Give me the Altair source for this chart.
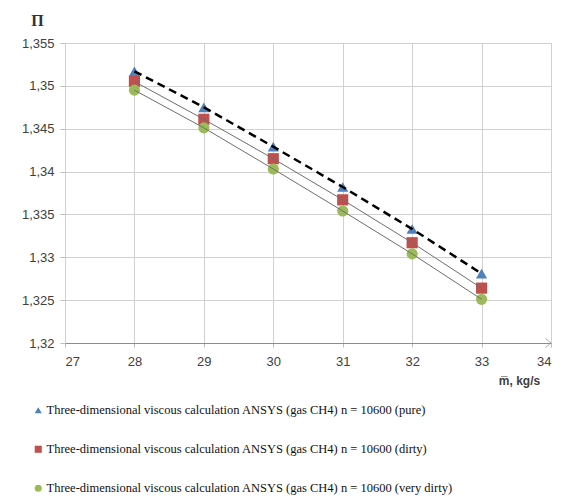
import altair as alt
import pandas as pd

flow = [28, 29, 30, 31, 32, 33]
pure = [1.3517, 1.3475, 1.3429, 1.3382, 1.3333, 1.3281]
dirty = [1.3505, 1.3461, 1.3415, 1.3367, 1.3317, 1.3264]
very_dirty = [1.3495, 1.3451, 1.3403, 1.3354, 1.3304, 1.3251]

names = [
    "Three-dimensional viscous calculation ANSYS (gas CH4) n = 10600 (pure)",
    "Three-dimensional viscous calculation ANSYS (gas CH4) n = 10600 (dirty)",
    "Three-dimensional viscous calculation ANSYS (gas CH4) n = 10600 (very dirty)",
]
colors = ["#4F81BD", "#C0504D", "#9BBB59"]
shapes = ["triangle-up", "square", "circle"]

rows = []
for name, vals in zip(names, [pure, dirty, very_dirty]):
    for x, y in zip(flow, vals):
        rows.append({"flow": x, "pi": y, "series": name})
df = pd.DataFrame(rows)

xs = alt.Scale(domain=[27, 34], nice=False)
ys = alt.Scale(domain=[1.32, 1.355], nice=False, zero=False)

xax = alt.Axis(
    values=[27, 28, 29, 30, 31, 32, 33, 34], format="d", title="m\u0305, kg/s",
    titleX=454, titleY=37, titleAlign="center", titleBaseline="middle",
    titleFont="Liberation Sans", titleFontSize=12, titleFontWeight="bold", titleColor="#404040",
    labelFont="Liberation Sans", labelFontSize=13, labelColor="#404040", labelPadding=8,
    domainColor="#8c8c8c", tickColor="#bfbfbf", tickSize=4, gridColor="#d0d0d0",
)
yax = alt.Axis(
    values=[1.32, 1.325, 1.33, 1.335, 1.34, 1.345, 1.35, 1.355], title="\u041f",
    labelExpr="replace(format(datum.value, '.3~f'), '.', ',')",
    titleAngle=0, titleX=-28, titleY=-23, titleAlign="center", titleBaseline="middle",
    titleFont="Liberation Serif", titleFontSize=16, titleFontWeight="bold", titleColor="#333333",
    labelFont="Liberation Sans", labelFontSize=13, labelColor="#404040", labelPadding=6,
    domain=False, tickColor="#bfbfbf", tickSize=5, gridColor="#d0d0d0",
)

base = alt.Chart(df)

points = base.mark_point(filled=True, opacity=1, size=125).encode(
    x=alt.X("flow:Q", scale=xs, axis=xax),
    y=alt.Y("pi:Q", scale=ys, axis=yax),
    color=alt.Color("series:N", scale=alt.Scale(domain=names, range=colors),
                    legend=alt.Legend(title=None, orient="none", legendX=-33, legendY=361,
                                      direction="vertical", labelLimit=600,
                                      labelFont="Liberation Serif", labelFontSize=12.5,
                                      labelColor="#111111", rowPadding=26, symbolSize=50,
                                      labelOffset=2)),
    shape=alt.Shape("series:N", scale=alt.Scale(domain=names, range=shapes)),
)

line_pure = base.transform_filter(alt.datum.series == names[0]).mark_line(
    color="black", strokeWidth=2.5, strokeDash=[8, 5]
).encode(x="flow:Q", y="pi:Q")

line_other = base.transform_filter(alt.datum.series != names[0]).mark_line(
    color="#6e6e6e", strokeWidth=1
).encode(x="flow:Q", y="pi:Q", detail="series:N")

arrow = alt.Chart(pd.DataFrame({"x": [34], "y": [1.32]})).mark_point(
    shape="M -1 -0.8 L 0 0 L -1 0.8", filled=False, stroke="#8c8c8c", strokeWidth=1, size=120,
).encode(x=alt.X("x:Q", scale=xs), y=alt.Y("y:Q", scale=ys))

chart = alt.layer(points, line_pure, line_other, arrow).properties(
    width=486, height=300,
    autosize=alt.AutoSizeParams(type="none"),
    padding={"left": 57, "top": 35, "right": 19, "bottom": 157},
    background="white",
).configure_view(stroke=None)

chart.save("out.html", embed_options={"renderer": "svg", "actions": False})
